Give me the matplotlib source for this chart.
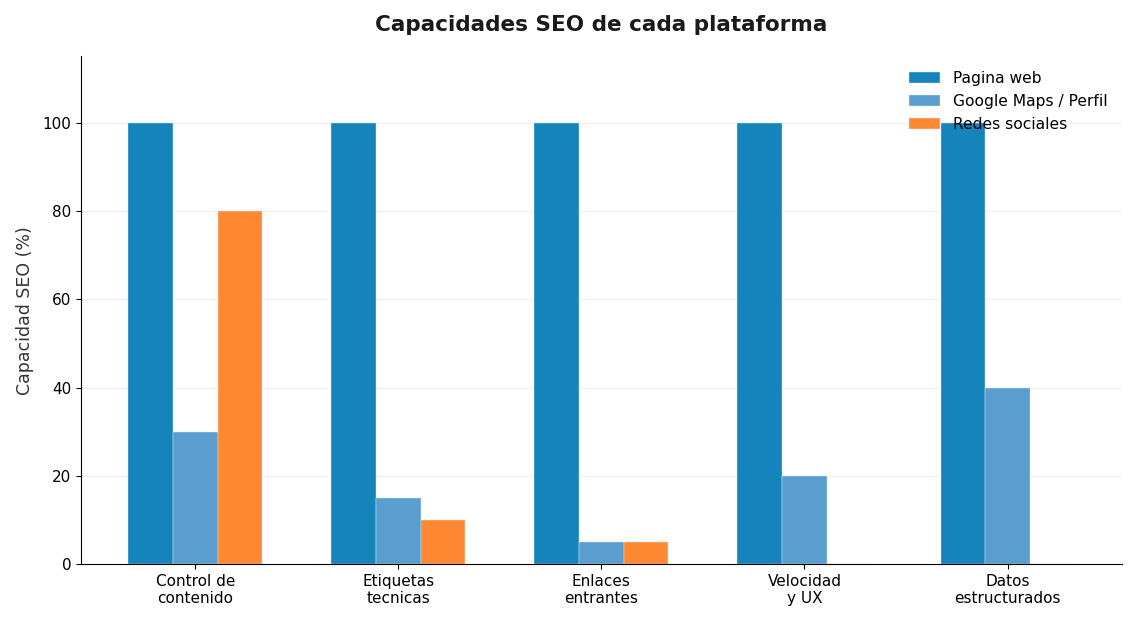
import matplotlib
matplotlib.use("Agg")
import matplotlib.pyplot as plt
import numpy as np

categories = ["Control de\ncontenido", "Etiquetas\ntecnicas", "Enlaces\nentrantes", "Velocidad\ny UX", "Datos\nestructurados"]
pagina_web = [100, 100, 100, 100, 100]
google_maps = [30, 15, 5, 20, 40]
redes_sociales = [80, 10, 5, 0, 0]
series_names = ["Pagina web", "Google Maps / Perfil", "Redes sociales"]
colors = ["#1484BA", "#5A9ECF", "#FF8833"]

fig, ax = plt.subplots(figsize=(11.39, 6.27), dpi=100)
fig.subplots_adjust(left=0.071, right=0.985, top=0.91, bottom=0.1)

x = np.arange(len(categories))
w = 0.22
for i, (vals, name, c) in enumerate(zip([pagina_web, google_maps, redes_sociales], series_names, colors)):
    ax.bar(x + (i - 1) * w, vals, w, label=name, color=c, edgecolor="#dbe9f3", linewidth=0.3, zorder=2)

ax.set_ylim(0, 115)
ax.set_xticks(x)
ax.set_xticklabels(categories, fontsize=11)
ax.tick_params(axis="y", labelsize=11)
ax.set_yticks([0, 20, 40, 60, 80, 100])
ax.set_ylabel("Capacidad SEO (%)", fontsize=12.5, color="#333333", labelpad=6)
ax.set_title("Capacidades SEO de cada plataforma", fontsize=15.5, fontweight="bold", color="#1a1a1a", pad=18)
ax.grid(axis="y", color="#f0f0f0", linewidth=0.8, zorder=0)
ax.set_axisbelow(True)
for s in ["top", "right"]:
    ax.spines[s].set_visible(False)
ax.legend(frameon=False, fontsize=11.2, loc="upper right", borderaxespad=0.55)

fig.savefig("out.png", dpi=100)
